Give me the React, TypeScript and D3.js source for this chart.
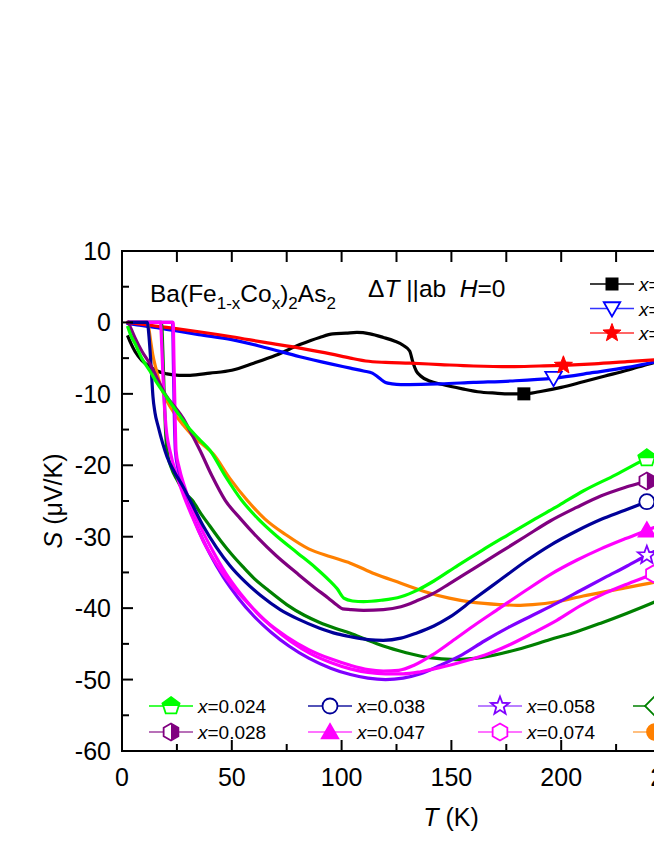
import React from "react";
import * as d3 from "d3";

const W = 654;
const H = 846;

// ---- tick values ----
const xMajorTicks = [0, 50, 100, 150, 200, 250, 300];
const xMinorTicks = [25, 75, 125, 175, 225, 275];
const yMajorTicks = [10, 0, -10, -20, -30, -40, -50, -60];
const yMinorTicks = [5, -5, -15, -25, -35, -45, -55];

// ---- series data: T (K), S (uV/K) ----
const T_x0 = [2.5, 4, 6, 9, 12.7, 16, 20.5, 26, 31, 40, 50, 60, 70, 81, 90, 96, 102, 107, 113, 119, 124, 128, 131, 132.5, 134, 136, 140, 146, 155, 162, 170, 177, 183, 190, 200, 210, 220, 230, 240, 250];
const S_x0 = [-1.8, -2.9, -4.1, -5.3, -6.2, -6.8, -7.2, -7.4, -7.4, -7.1, -6.7, -5.7, -4.6, -3.1, -2.1, -1.6, -1.5, -1.4, -1.6, -2.1, -2.6, -3.2, -4.0, -5.6, -6.8, -7.5, -8.2, -8.7, -9.3, -9.7, -9.9, -10.0, -10.0, -9.7, -9.1, -8.3, -7.5, -6.7, -5.8, -5.0];

const T_blue = [2, 8, 15, 23, 35, 50, 65, 81, 95, 104, 110, 114, 116, 118, 120, 123, 127, 131, 145, 160, 177, 196.5, 215, 230, 245, 255];
const S_blue = [-0.1, -0.4, -0.7, -1.1, -1.7, -2.4, -3.5, -4.8, -5.8, -6.4, -6.8, -7.1, -7.5, -8.0, -8.4, -8.6, -8.7, -8.7, -8.6, -8.4, -8.2, -7.8, -7.0, -6.3, -5.4, -4.8];

const T_red = [2, 8, 15, 23, 35, 50, 65, 81, 95, 104, 111, 120, 131, 145, 160, 177, 190, 201, 215, 230, 245, 255];
const S_red = [0, -0.2, -0.5, -0.8, -1.3, -2.0, -2.8, -3.6, -4.4, -5.0, -5.4, -5.6, -5.7, -5.9, -6.1, -6.2, -6.1, -6.0, -5.8, -5.5, -5.2, -5.0];

const T_024 = [2.5, 4, 6, 9, 12.7, 16, 20, 25, 30, 35, 40, 47, 54.5, 62, 70, 80, 88, 94, 98, 101, 105, 110, 118, 127, 135, 142, 153, 164, 176, 187, 199, 210, 225, 239, 250];
const S_024 = [-0.5, -1.8, -3, -5, -6.8, -8.5, -10.3, -12.5, -14.6, -16.3, -17.9, -21.5, -24.9, -27.5, -29.8, -32.3, -34.3, -36, -37.3, -38.6, -39, -39.1, -38.9, -38.4, -37.4, -36.2, -34, -31.9, -29.7, -27.7, -25.6, -23.6, -21.3, -19, -17.3];

const T_028 = [2.5, 4, 6, 9, 12.7, 16, 20, 24, 27.8, 31, 35.5, 41, 47, 54, 62, 70, 80, 88, 94, 98, 100.5, 104, 110, 119, 127, 134, 142, 149, 160, 172, 184, 195, 207, 218, 229, 239, 250];
const S_028 = [0.2, -0.8, -2.2, -4, -5.8, -7.8, -10.2, -11.8, -13.4, -15.2, -17.9, -21.5, -24.9, -27.5, -30.2, -32.6, -35.2, -37.2, -38.6, -39.6, -40.1, -40.2, -40.3, -40.2, -39.8, -39, -37.9, -36.6, -34.5, -32.2, -29.9, -27.8, -25.9, -24.3, -23.1, -22.2, -21];

const T_038 = [2.5, 11.5, 12.3, 13, 13.6, 14.1, 15, 16.5, 18.5, 20.5, 24, 27.8, 32, 37, 43, 49, 56, 63, 72, 80, 90, 98, 104, 112, 119, 127, 134, 142, 149, 160, 172, 184, 195, 207, 218, 229, 239, 250];
const S_038 = [0, 0, -2, -5, -8, -10.4, -12.6, -14.6, -16.9, -18.8, -21, -23, -25.5, -28.5, -31.5, -34, -36.3, -38.2, -40.2, -41.5, -42.8, -43.6, -44, -44.4, -44.5, -44.2, -43.5, -42.5, -41.3, -38.8, -36.1, -33.4, -31.2, -29.2, -27.6, -26.3, -25.1, -23.8];

const T_047 = [2.5, 17.5, 18.2, 19, 20, 22, 25, 28, 32, 37, 43, 50, 57, 65, 75, 85, 95, 104, 112, 119, 126, 133, 141.6, 150, 160, 172, 184, 195, 207, 218, 229, 239, 250];
const S_047 = [0, 0, -4, -10, -14.5, -18.2, -21.5, -24.2, -27.2, -30.6, -33.8, -36.8, -39.2, -41.7, -44, -45.8, -47.1, -48, -48.6, -48.8, -48.7, -48, -46.5, -44.7, -42.5, -40, -37.5, -35.3, -33.3, -31.7, -30.3, -29.1, -27.8];

const T_058 = [2.5, 23, 23.4, 23.8, 24.3, 25.5, 28, 31, 35, 40, 46, 53, 60, 68, 76, 85, 95, 104, 112, 120, 128, 136, 145, 155, 165, 176, 187, 198, 209, 220, 230, 239, 250];
const S_058 = [0, 0, -6, -13, -18, -20.5, -23.5, -26.2, -29.2, -32.4, -35.6, -38.6, -41.1, -43.4, -45.3, -47, -48.4, -49.3, -49.8, -50, -49.8, -49.2, -48, -46.5, -44.6, -42.7, -41.0, -39.3, -37.5, -35.7, -34.1, -32.6, -30.9];

const T_074 = [2.5, 23.3, 23.7, 24.1, 24.6, 26, 28.5, 32, 36, 41, 47, 54, 61, 69, 77, 86, 95, 104, 112, 120, 128, 136, 145, 155, 165, 176, 187, 198, 209, 220, 231, 242, 250];
const S_074 = [0, 0, -6, -12, -17.9, -20.3, -23, -26, -28.8, -31.8, -35, -38, -40.5, -42.8, -44.7, -46.4, -47.6, -48.5, -49, -49.2, -49.2, -48.9, -48.3, -47.5, -46.6, -45.2, -43.5, -41.7, -39.6, -37.9, -36.5, -35.2, -34.2];

const T_087 = [2.5, 18, 18.6, 19.2, 19.8, 20.5, 22.5, 25, 28, 32, 36, 40, 45, 50, 55, 60, 67, 75, 83, 90, 97, 104, 112, 119, 129, 139, 152, 164, 180, 195, 207, 218, 230, 242, 250];
const S_087 = [0, 0, -4, -10, -15, -17.9, -20.4, -22, -23.6, -24.9, -26.8, -28.5, -30.6, -32.5, -34.2, -35.8, -37.6, -39.5, -41, -42, -42.8, -43.5, -44.5, -45.3, -46.2, -46.9, -47.2, -46.9, -45.8, -44.4, -43.3, -42.1, -40.7, -39.2, -38.1];

const T_100 = [2.5, 11.5, 12.2, 13, 14, 15.5, 17.5, 20.5, 24, 28, 32, 36, 41.5, 49, 57, 65, 75, 85, 95, 104, 115, 127, 138, 149, 160, 172, 180, 187, 198, 210, 225, 242, 250];
const S_100 = [0, 0, -0.8, -2.5, -4.5, -6.5, -8.8, -11, -12.8, -14.4, -15.8, -16.9, -18.4, -21.8, -24.9, -27.5, -29.8, -31.7, -32.8, -33.7, -35.2, -36.5, -37.7, -38.6, -39.2, -39.5, -39.6, -39.5, -39.1, -38.3, -37.4, -36.4, -35.8];

// ---- legend labels ----
const topLegendLabels = ["0", "0.012", "0.016"];
const bottomLegendLabels = ["0.024", "0.028", "0.038", "0.047", "0.058", "0.074", "0.087", "0.100"];

type MarkerType =
  | "square" | "triDown" | "starFill" | "pentHalf" | "hexHalf" | "circleOpen"
  | "triUp" | "starOpen" | "hexOpen" | "diamondOpen" | "circleFill";

interface Series {
  key: string;
  T: number[];
  S: number[];
  color: string;
  legendColor: string;
  marker: MarkerType;
  markerT: number;
}

const series: Series[] = [
  { key: "x0", T: T_x0, S: S_x0, color: "#000000", legendColor: "#000000", marker: "square", markerT: 183 },
  { key: "blue", T: T_blue, S: S_blue, color: "#0000ff", legendColor: "#3333ff", marker: "triDown", markerT: 196.5 },
  { key: "red", T: T_red, S: S_red, color: "#ff0000", legendColor: "#ff3333", marker: "starFill", markerT: 201 },
  { key: "100", T: T_100, S: S_100, color: "#ff8000", legendColor: "#ffaa55", marker: "circleFill", markerT: 262 },
  { key: "087", T: T_087, S: S_087, color: "#008000", legendColor: "#008000", marker: "diamondOpen", markerT: 262 },
  { key: "058", T: T_058, S: S_058, color: "#8000ff", legendColor: "#a055ff", marker: "starOpen", markerT: 239 },
  { key: "074", T: T_074, S: S_074, color: "#ff00ff", legendColor: "#ff44ff", marker: "hexOpen", markerT: 242 },
  { key: "047", T: T_047, S: S_047, color: "#ff00ff", legendColor: "#ff44ff", marker: "triUp", markerT: 239 },
  { key: "038", T: T_038, S: S_038, color: "#000099", legendColor: "#1a1aa0", marker: "circleOpen", markerT: 239 },
  { key: "028", T: T_028, S: S_028, color: "#800080", legendColor: "#a040a0", marker: "hexHalf", markerT: 239 },
  { key: "024", T: T_024, S: S_024, color: "#00ff00", legendColor: "#00ff00", marker: "pentHalf", markerT: 239 },
];

const byKey = (k: string) => series.find((s) => s.key === k)!;

const topLegendKeys = ["x0", "blue", "red"];
const bottomLegendKeys = ["024", "028", "038", "047", "058", "074", "087", "100"];

const xScale = d3.scaleLinear().domain([0, 250]).range([122, 671]);
const yScale = d3.scaleLinear().domain([-60, 10]).range([751, 251]);

const FONT = "'Liberation Sans', Arial, Helvetica, sans-serif";

function polygon(cx: number, cy: number, r: number, n: number, startDeg: number) {
  const pts: [number, number][] = [];
  for (let i = 0; i < n; i++) {
    const a = ((startDeg + (360 / n) * i) * Math.PI) / 180;
    pts.push([cx + r * Math.cos(a), cy + r * Math.sin(a)]);
  }
  return pts.map((p) => p.join(",")).join(" ");
}

function starPoints(cx: number, cy: number, r: number) {
  const pts: [number, number][] = [];
  for (let i = 0; i < 10; i++) {
    const rr = i % 2 === 0 ? r : r * 0.42;
    const a = ((-90 + 36 * i) * Math.PI) / 180;
    pts.push([cx + rr * Math.cos(a), cy + rr * Math.sin(a)]);
  }
  return pts.map((p) => p.join(",")).join(" ");
}

function Marker({ type, cx, cy, color, uid }: { type: MarkerType; cx: number; cy: number; color: string; uid: string }) {
  const sw = 1.8;
  switch (type) {
    case "square":
      return <rect x={cx - 6.5} y={cy - 6.5} width={13} height={13} fill={color} />;
    case "triDown":
      return <polygon points={polygon(cx, cy - 1.5, 9.5, 3, 90)} fill="#fff" stroke={color} strokeWidth={sw} />;
    case "triUp":
      return <polygon points={polygon(cx, cy + 1.5, 9.5, 3, -90)} fill={color} stroke={color} strokeWidth={sw} />;
    case "starFill":
      return <polygon points={starPoints(cx, cy, 9.5)} fill={color} stroke={color} strokeWidth={1} />;
    case "starOpen":
      return <polygon points={starPoints(cx, cy, 9.5)} fill="#fff" stroke={color} strokeWidth={sw} />;
    case "circleOpen":
      return <circle cx={cx} cy={cy} r={7.5} fill="#fff" stroke={color} strokeWidth={sw} />;
    case "circleFill":
      return <circle cx={cx} cy={cy} r={8} fill={color} stroke={color} strokeWidth={sw} />;
    case "hexOpen":
      return <polygon points={polygon(cx, cy, 8.5, 6, -90)} fill="#fff" stroke={color} strokeWidth={sw} />;
    case "diamondOpen":
      return <polygon points={polygon(cx, cy, 10, 4, 0)} fill="#fff" stroke={color} strokeWidth={sw} />;
    case "pentHalf": {
      const id = `clip-${uid}`;
      return (
        <g>
          <defs>
            <clipPath id={id}>
              <rect x={cx - 12} y={cy - 12} width={24} height={12} />
            </clipPath>
          </defs>
          <polygon points={polygon(cx, cy, 9, 5, -90)} fill="#fff" stroke={color} strokeWidth={sw} />
          <polygon points={polygon(cx, cy, 9, 5, -90)} fill={color} clipPath={`url(#${id})`} />
        </g>
      );
    }
    case "hexHalf": {
      const id = `clip-${uid}`;
      return (
        <g>
          <defs>
            <clipPath id={id}>
              <rect x={cx} y={cy - 12} width={12} height={24} />
            </clipPath>
          </defs>
          <polygon points={polygon(cx, cy, 8.5, 6, -90)} fill="#fff" stroke={color} strokeWidth={sw} />
          <polygon points={polygon(cx, cy, 8.5, 6, -90)} fill={color} clipPath={`url(#${id})`} />
        </g>
      );
    }
  }
  return null;
}

function LegendEntry({ s, x1, y, label, uid }: { s: Series; x1: number; y: number; label: string; uid: string }) {
  const x2 = x1 + 44;
  return (
    <g>
      <line x1={x1} x2={x2} y1={y} y2={y} stroke={s.legendColor} strokeWidth={1.5} />
      <Marker type={s.marker} cx={(x1 + x2) / 2} cy={y} color={s.color} uid={uid} />
      <text x={x2 + 5} y={y + 7} fontFamily={FONT} fontSize={19} fill="#000">
        <tspan fontStyle="italic">x</tspan>={label}
      </text>
    </g>
  );
}

export default function App() {
  const line = d3
    .line<[number, number]>()
    .x((d) => xScale(d[0]))
    .y((d) => yScale(d[1]))
    .curve(d3.curveMonotoneX);

  return (
    <svg
      width={W}
      height={H}
      viewBox={`0 0 ${W} ${H}`}
      style={{ position: "absolute", left: 0, top: 0, background: "#fff" }}
    >
      <defs>
        <clipPath id="plotClip">
          <rect x={122} y={251} width={700} height={500} />
        </clipPath>
      </defs>
      <rect x={0} y={0} width={W} height={H} fill="#fff" />

      {/* curves */}
      <g clipPath="url(#plotClip)">
        {series.map((s) => {
          const pts = s.T.map((t, i) => [t, s.S[i]] as [number, number]);
          return <path key={s.key} d={line(pts) || ""} fill="none" stroke={s.color} strokeWidth={3.2} strokeLinejoin="round" />;
        })}
        {series.map((s) => {
          const interp = d3.scaleLinear().domain(s.T).range(s.S);
          const sv = interp(s.markerT);
          return <Marker key={"m" + s.key} type={s.marker} cx={xScale(s.markerT)} cy={yScale(sv)} color={s.color} uid={"d" + s.key} />;
        })}
      </g>

      {/* axes frame */}
      <g stroke="#000" strokeWidth={2} fill="none">
        <line x1={122} x2={122} y1={250} y2={752} />
        <line x1={121} x2={W + 10} y1={251} y2={251} />
        <line x1={121} x2={W + 10} y1={751} y2={751} />
        {xMajorTicks.map((t) => (
          <g key={"xM" + t}>
            <line x1={xScale(t)} x2={xScale(t)} y1={751} y2={740} />
            <line x1={xScale(t)} x2={xScale(t)} y1={251} y2={262} />
          </g>
        ))}
        {xMinorTicks.map((t) => (
          <g key={"xm" + t}>
            <line x1={xScale(t)} x2={xScale(t)} y1={751} y2={744} />
            <line x1={xScale(t)} x2={xScale(t)} y1={251} y2={262} />
          </g>
        ))}
        {yMajorTicks.map((t) => (
          <line key={"yM" + t} x1={122} x2={133} y1={yScale(t)} y2={yScale(t)} />
        ))}
        {yMinorTicks.map((t) => (
          <line key={"ym" + t} x1={122} x2={129} y1={yScale(t)} y2={yScale(t)} />
        ))}
      </g>

      {/* tick labels */}
      <g fontFamily={FONT} fontSize={25} fill="#000">
        {yMajorTicks.map((t) => (
          <text key={"yl" + t} x={111} y={yScale(t) + 9} textAnchor="end">
            {t}
          </text>
        ))}
        {xMajorTicks.map((t) => (
          <text key={"xl" + t} x={xScale(t)} y={786} textAnchor="middle">
            {t}
          </text>
        ))}
      </g>

      {/* axis titles */}
      <text x={451} y={826} textAnchor="middle" fontFamily={FONT} fontSize={25}>
        <tspan fontStyle="italic">T</tspan> (K)
      </text>
      <text
        transform={`translate(62, ${yScale(-25)}) rotate(-90)`}
        textAnchor="middle"
        fontFamily={FONT}
        fontSize={25}
      >
        <tspan fontStyle="italic">S</tspan> (μV/K)
      </text>

      {/* annotations */}
      <text x={150} y={302} fontFamily={FONT} fontSize={24.5}>
        Ba(Fe
        <tspan fontSize={17} dy={7}>1-x</tspan>
        <tspan dy={-7}>Co</tspan>
        <tspan fontSize={17} dy={7}>x</tspan>
        <tspan dy={-7}>)</tspan>
        <tspan fontSize={17} dy={7}>2</tspan>
        <tspan dy={-7}>As</tspan>
        <tspan fontSize={17} dy={7}>2</tspan>
      </text>
      <text x={368} y={297} fontFamily={FONT} fontSize={24.5}>
        Δ<tspan fontStyle="italic">T</tspan> ||ab{"\u00a0\u00a0"}<tspan fontStyle="italic">H</tspan>=0
      </text>

      {/* top-right legend */}
      {topLegendKeys.map((k, i) => (
        <LegendEntry key={"tl" + k} s={byKey(k)} x1={590} y={284 + i * 24.5} label={topLegendLabels[i]} uid={"tl" + k} />
      ))}

      {/* bottom legend */}
      {bottomLegendKeys.map((k, i) => {
        const col = Math.floor(i / 2);
        const row = i % 2;
        const colX = [149, 308, 478, 633][col];
        return (
          <LegendEntry key={"bl" + k} s={byKey(k)} x1={colX} y={706 + row * 26} label={bottomLegendLabels[i]} uid={"bl" + k} />
        );
      })}
    </svg>
  );
}
